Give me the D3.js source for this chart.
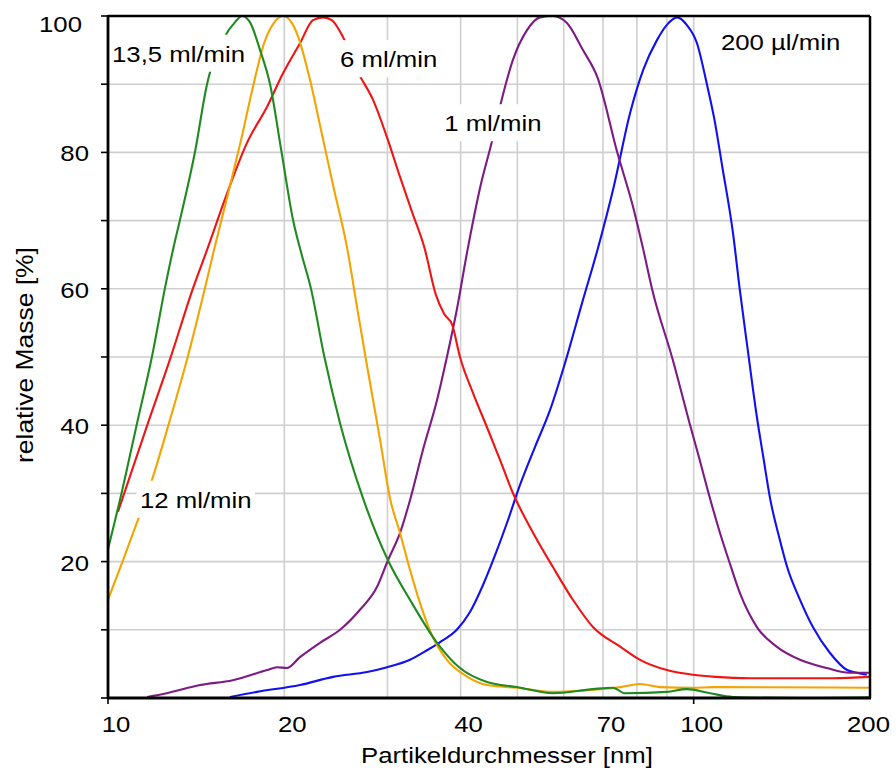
<!DOCTYPE html>
<html><head><meta charset="utf-8">
<script src="https://cdn.jsdelivr.net/npm/d3@7"></script>
<style>
html,body{margin:0;padding:0;background:#fff;}
text{font-family:"Liberation Sans",Arial,sans-serif;fill:#000;}
</style></head>
<body><svg id="c" width="896" height="771"></svg>
<script>
// ---- data ----
const xDomain = [10, 200];
const yDomain = [0, 100];
const xGridValues = [20, 30, 40, 50, 60, 70, 80, 90, 100];
const yGridValues = [10, 20, 30, 40, 50, 60, 70, 80, 90];
const yTickValues = [0, 10, 20, 30, 40, 50, 60, 70, 80, 90, 100];
const yTickLabels = [20, 40, 60, 80, 100];
const xTickLabels = [10, 20, 40, 70, 100, 200];
const xTickMarks = [10, 100];
const xTitle = "Partikeldurchmesser [nm]";
const yTitle = "relative Masse [%]";

const blue = [[16.15,0.15],[17.96,0.9],[21.27,1.9],[24.23,3.1],[27.7,3.8],[29.96,4.5],[32.78,5.6],[35.05,7.0],[36.9,8.2],[39.4,10],[41.5,12.6],[43.7,16.6],[45.97,21.3],[48.19,26.1],[50.5,31.2],[53.58,36.8],[56.84,42.2],[60.53,49.6],[64.47,57.9],[68.5,65.7],[73,74.9],[77.9,85.8],[82,92.1],[86.6,96.5],[90,98.7],[93.7,99.8],[97.3,98.7],[101.3,96],[105.2,90.2],[108.5,84.8],[111.9,77.9],[116.7,68.2],[119.9,59.8],[123.7,51],[128.2,41.2],[131.5,35.3],[135,29.3],[140.3,23.2],[144.4,19.2],[151.9,14.4],[159.8,10.4],[170.9,6.6],[182.8,4.1],[190,3.7],[197.5,3.4]];
const purple = [[11.66,0.15],[12.6,0.7],[14.36,1.9],[16.33,2.6],[18.69,4.1],[19.44,4.5],[20.2,4.4],[21.27,6],[23.01,8.1],[24.9,10],[26.9,12.9],[28.8,16.3],[30.06,20.2],[31.52,24.2],[32.78,29],[34.5,36.4],[36.46,43.7],[37.9,50],[39.4,56.9],[41.1,65.7],[43.2,74.9],[45.3,81.8],[47,87.7],[49.1,93.5],[51.9,97.9],[54.65,99.8],[57.5,100],[60.7,99],[64.7,95],[68.5,91],[74.1,79.9],[78.8,72],[81.9,66],[85,59.8],[92.1,49.6],[98.4,40.3],[102.1,35.3],[106.6,29.3],[110.9,24.2],[115.2,19.8],[119.9,15.4],[128.2,10.4],[138.7,7.5],[151.9,5.6],[168.7,4.4],[184.6,3.7],[200,3.7]];
const red = [[10.4,27.3],[11.7,40.3],[12.81,50.1],[13.97,60.1],[14.76,65.7],[15.97,74],[17.27,81.4],[18.69,86.7],[19.9,91.6],[21.27,96],[22.39,99.4],[23.3,99.8],[24.1,99.4],[25.2,96.9],[26.7,91.8],[28.35,87.7],[30.06,81.8],[31.52,76.4],[33.1,71.1],[34.7,66],[36.3,59.1],[37.5,56.3],[38.7,54.7],[39.9,50],[42,44.7],[44.37,39.7],[46.7,34.9],[49.1,30.1],[53.2,24.2],[57.5,19.2],[62.2,14.4],[67.3,10.4],[75,7.5],[81,5.6],[90,4.1],[99.8,3.4],[108.9,3.1],[124.8,2.9],[173,2.9],[200,3.1]];
const orange = [[10,14.4],[10.61,20.2],[11.29,26.5],[11.89,32],[12.71,40.3],[13.69,50.1],[14.64,60.1],[15.17,65.7],[16.09,74.5],[16.87,81.8],[17.68,89.6],[18.47,96],[19.2,99],[19.9,100],[20.6,99],[21.13,96.9],[22.13,90.6],[23.17,82.8],[24.27,74.9],[25.6,66],[26.67,56.9],[27.52,50],[28.35,43.7],[29.2,37.4],[30.3,29.3],[31.52,24.2],[32.78,18.8],[34.1,13.9],[35.86,8.9],[37.9,5.6],[41.1,3.1],[44.37,1.9],[49.92,1.5],[57.5,0.9],[67.3,1.2],[75,1.6],[81,2.05],[87.6,1.6],[99.8,1.5],[107.9,1.6],[200,1.5]];
const green = [[10,21.8],[10.48,29.0],[11.21,40.3],[11.89,50.1],[12.51,60.1],[12.91,65.7],[13.27,70.1],[14.08,80.1],[14.76,90],[15.78,96.8],[16.48,99.1],[16.94,100],[17.47,99.1],[18.18,95],[18.91,90],[19.78,80.1],[20.7,70.1],[21.4,65.1],[22.2,60.1],[23.4,50.1],[24.9,40.3],[27.25,29.3],[30.06,20.2],[32.78,14.4],[36.46,8.1],[39.9,4.4],[44.37,2.35],[49.92,1.6],[57.5,0.7],[67.3,1.3],[72.8,1.5],[76.3,0.7],[90,0.9],[97.3,1.3],[106.6,0.7],[116.7,0.15],[151.9,0],[200,0.1]];

const seriesNames = ["200 µl/min","1 ml/min","6 ml/min","12 ml/min","13,5 ml/min"];
const seriesData = [blue, purple, red, orange, green];
const seriesColors = ["#1010f0","#7d1a84","#f01414","#f5a300","#1f8a1f"];

// label anchors (data coords: diameter, value at baseline)
const labelText = ["13,5 ml/min","6 ml/min","1 ml/min","12 ml/min","200 µl/min"];
const labelD = [10.16, 24.9, 37.5, 11.34, 111.3];
const labelV = [93.3, 92.5, 83.1, 27.9, 95.0];

// ---- drawing ----
const svg = d3.select("#c");
const L = 108, R = 870, T = 16, B = 698;
const x = d3.scaleLog().domain(xDomain).range([L, R]);
const y = d3.scaleLinear().domain(yDomain).range([B, T]);
const SX = 1.12, FS = 23;

// grid
svg.append("g").selectAll("line").data(xGridValues).join("line")
  .attr("x1", d => x(d)).attr("x2", d => x(d)).attr("y1", T).attr("y2", B)
  .attr("stroke", "#cfcfcf").attr("stroke-width", 1.6);
svg.append("g").selectAll("line").data(yGridValues).join("line")
  .attr("x1", L).attr("x2", R).attr("y1", d => y(d)).attr("y2", d => y(d))
  .attr("stroke", "#cfcfcf").attr("stroke-width", 1.6);

// curves
const line = d3.line().x(d => x(d[0])).y(d => y(d[1])).curve(d3.curveMonotoneX);
svg.append("g").selectAll("path").data(seriesData).join("path")
  .attr("d", line).attr("fill", "none")
  .attr("stroke", (d, i) => seriesColors[i]).attr("stroke-width", 2.1)
  .attr("stroke-linejoin", "round");

// labels with white boxes
const lg = svg.append("g");
labelText.forEach((t, i) => {
  const g = lg.append("g").attr("transform", `translate(${x(labelD[i])},${y(labelV[i])}) scale(${SX},1)`);
  const rect = g.append("rect").attr("fill", "#fff");
  const tx = g.append("text").attr("font-size", FS).text(t);
  const bb = tx.node().getBBox();
  rect.attr("x", -3).attr("y", -27).attr("width", bb.width + 6).attr("height", 37);
});

// axes / frame
const fr = svg.append("g");
fr.append("line").attr("x1", L).attr("x2", R).attr("y1", T).attr("y2", T).attr("stroke", "#000").attr("stroke-width", 2.5);
fr.append("line").attr("x1", R).attr("x2", R).attr("y1", T).attr("y2", B).attr("stroke", "#000").attr("stroke-width", 2.5);
fr.append("line").attr("x1", L).attr("x2", L).attr("y1", T - 1).attr("y2", B + 1).attr("stroke", "#000").attr("stroke-width", 2.8);
fr.append("line").attr("x1", L).attr("x2", R + 1).attr("y1", B).attr("y2", B).attr("stroke", "#000").attr("stroke-width", 2.8);
fr.selectAll(".yt").data(yTickValues).join("line").attr("class", "yt")
  .attr("x1", L - 7).attr("x2", L).attr("y1", d => y(d)).attr("y2", d => y(d))
  .attr("stroke", "#000").attr("stroke-width", 1.6);
fr.selectAll(".xt").data(xTickMarks).join("line").attr("class", "xt")
  .attr("x1", d => x(d)).attr("x2", d => x(d)).attr("y1", B).attr("y2", B + 6)
  .attr("stroke", "#000").attr("stroke-width", 1.6);

// y tick labels (top label kept inside the frame height)
svg.append("g").selectAll("text").data(yTickLabels).join("text")
  .attr("transform", d => {
    const clamped = y(d) + 9 < T + 16;
    return `translate(${clamped ? 82 : 89},${clamped ? T + 16 : y(d) + 9}) scale(${SX},1)`;
  })
  .attr("text-anchor", "end").attr("font-size", FS).text(d => d);

// x tick labels
svg.append("g").selectAll("text").data(xTickLabels).join("text")
  .attr("font-size", FS).attr("text-anchor", "middle").text(d => d)
  .attr("transform", function(d) {
    const w = this.getComputedTextLength() * SX;
    const cx = Math.min(x(d) + 8, 890 - w / 2);
    return `translate(${cx},732) scale(${SX},1)`;
  });

// axis titles
svg.append("text").attr("transform", `translate(507,763) scale(${SX},1)`)
  .attr("text-anchor", "middle").attr("font-size", FS).text(xTitle);
svg.append("text").attr("transform", `translate(33,355) rotate(-90) scale(1.15,1)`)
  .attr("text-anchor", "middle").attr("font-size", FS).text(yTitle);
</script></body></html>
